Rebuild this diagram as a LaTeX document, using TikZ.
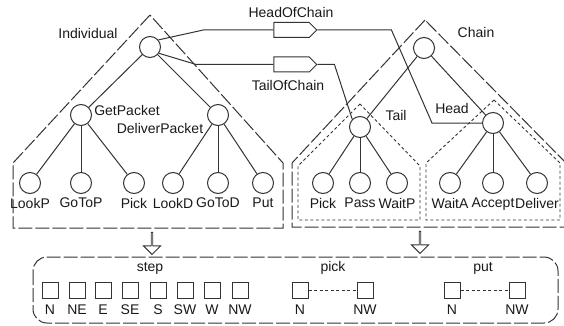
\documentclass[tikz,border=0pt]{standalone}
\usepackage{fontspec}
\setmainfont{Liberation Sans}
\usetikzlibrary{arrows.meta,positioning,shapes.symbols,shapes.arrows}

\begin{document}
\begin{tikzpicture}[
    x=1pt, y=-1pt,
    every node/.style={font=\fontsize{14}{16}\selectfont, text=black!90},
    vertex/.style={circle, draw=black!80, line width=1pt, minimum size=21pt, inner sep=0pt},
    edge/.style={draw=black!80, line width=1pt},
    longdash/.style={draw=black!80, line width=1pt, dash pattern=on 14pt off 3pt},
    shortdash/.style={draw=black!80, line width=0.9pt, dash pattern=on 3pt off 2.5pt},
    sig/.style={signal, signal to=east, draw=black!80, line width=1pt, minimum width=43pt,
                minimum height=15pt, inner sep=0pt},
    down/.style={single arrow, draw=black!80, line width=0.9pt, shape border rotate=270,
                 minimum height=22pt, minimum width=17pt, single arrow head extend=4.5pt, inner sep=0pt},
    cell/.style={rectangle, draw=black!80, line width=1pt, minimum size=16pt, inner sep=0pt},
    txt/.style={inner sep=1pt}
]
\useasboundingbox (0,0) rectangle (564,326);

% Individual tree
\node[vertex] (iroot) at (150,47) {};
\node[vertex] (getp) at (81,115) {};
\node[vertex] (delp) at (218,115) {};
\node[vertex] (lookp) at (30,183) {};
\node[vertex] (gotop) at (81,183) {};
\node[vertex] (ipick) at (134,183) {};
\node[vertex] (lookd) at (173,183) {};
\node[vertex] (gotod) at (218,183) {};
\node[vertex] (put) at (263,183) {};
\node[txt, below=3pt of lookp] (tlookp) {LookP};
\node[txt, below=3pt of gotop] (tgotop) {GoToP};
\node[txt, below=3pt of ipick] (tipick) {Pick};
\node[txt, below=3pt of lookd] (tlookd) {LookD};
\node[txt, below=3pt of gotod] (tgotod) {GoToD};
\node[txt, below=3pt of put] (tput) {Put};
\node[txt] (tindiv) at (88,33) {Individual};
\node[txt] (tgetp) at (127,110) {GetPacket};
\node[txt] (tdelp) at (160,128) {DeliverPacket};

% Chain tree
\node[vertex] (croot) at (424,48) {};
\node[vertex] (tail) at (360,127) {};
\node[vertex] (head) at (493,123) {};
\node[vertex] (cpick) at (323,183) {};
\node[vertex] (pass) at (360,183) {};
\node[vertex] (waitp) at (397,183) {};
\node[vertex] (waita) at (450,183) {};
\node[vertex] (accept) at (493,183) {};
\node[vertex] (deliver) at (537,183) {};
\node[txt, below=3pt of cpick] (tcpick) {Pick};
\node[txt, below=3pt of pass] (tpass) {Pass};
\node[txt, below=3pt of waitp] (twaitp) {WaitP};
\node[txt, below=3pt of waita] (twaita) {WaitA};
\node[txt, below=3pt of accept] (taccept) {Accept};
\node[txt, below=3pt of deliver] (tdeliver) {Deliver};
\node[txt] (tchain) at (476,32) {Chain};
\node[txt] (ttail) at (396,115) {Tail};
\node[txt] (thead) at (452,108) {Head};

% ports
\node[sig] (hoc) at (291.5,30) {};
\node[sig] (toc) at (291.5,64.5) {};
\node[txt] (thoc) at (291,12) {HeadOfChain};
\node[txt] (ttoc) at (288,85) {TailOfChain};

\draw[edge] (iroot) -- (getp); \draw[edge] (iroot) -- (delp);
\draw[edge] (getp) -- (lookp); \draw[edge] (getp) -- (gotop); \draw[edge] (getp) -- (ipick);
\draw[edge] (delp) -- (lookd); \draw[edge] (delp) -- (gotod); \draw[edge] (delp) -- (put);
\draw[edge] (croot) -- (tail); \draw[edge] (croot) -- (head);
\draw[edge] (tail) -- (cpick); \draw[edge] (tail) -- (pass); \draw[edge] (tail) -- (waitp);
\draw[edge] (head) -- (waita); \draw[edge] (head) -- (accept); \draw[edge] (head) -- (deliver);

\draw[edge] (iroot.40) -- ([xshift=-70pt]hoc.west) -- (hoc.west);
\draw[edge] (iroot.-35) -- ([xshift=-77pt]toc.west) -- (toc.west);
\draw[edge] (hoc.east) -- ++(74,0) -- ([xshift=-50pt]head.west) -- (head.west);
\draw[edge] (toc.east) -- ++(17,0) -- (tail.north west);

% module outlines
\draw[longdash] (150,15) -- (13,163) -- (13,228) -- (283,228) -- (283,163) -- cycle;
\draw[longdash] (425,20) -- (292,163) -- (292,227) -- (566,227) -- (566,163) -- cycle;
\draw[shortdash] (360,104) -- (298,166) -- (298,220) -- (420,220) -- (420,166) -- cycle;
\draw[shortdash] (494,100) -- (426,163) -- (426,220) -- (560,220) -- (560,163) -- cycle;

% mapping
\node[down] (dind) at (152,243) {};
\node[down] (dchain) at (420,242) {};
\draw[longdash, rounded corners=14pt] (33,257) rectangle (558,323);

\node[txt] (tstep) at (150,268) {step};
\foreach \x/\d [count=\i] in {50/N, 77/NE, 103/E, 130/SE, 158/S, 185/SW, 212/W, 240/NW} {
  \node[cell] (st\i) at (\x,290) {};
  \node[txt, below=5pt of st\i] (tst\i) {\d};
}
\node[txt] (tpick) at (333,268) {pick};
\node[cell] (pk1) at (300,290) {};
\node[cell] (pk2) at (365,290) {};
\node[txt, below=5pt of pk1] (tpk1) {N};
\node[txt, below=5pt of pk2] (tpk2) {NW};
\draw[shortdash] (pk1) -- (pk2);
\node[txt] (tput) at (483,268) {put};
\node[cell] (pt1) at (452,290) {};
\node[cell] (pt2) at (517,290) {};
\node[txt, below=5pt of pt1] (tpt1) {N};
\node[txt, below=5pt of pt2] (tpt2) {NW};
\draw[shortdash] (pt1) -- (pt2);
\end{tikzpicture}
\end{document}
